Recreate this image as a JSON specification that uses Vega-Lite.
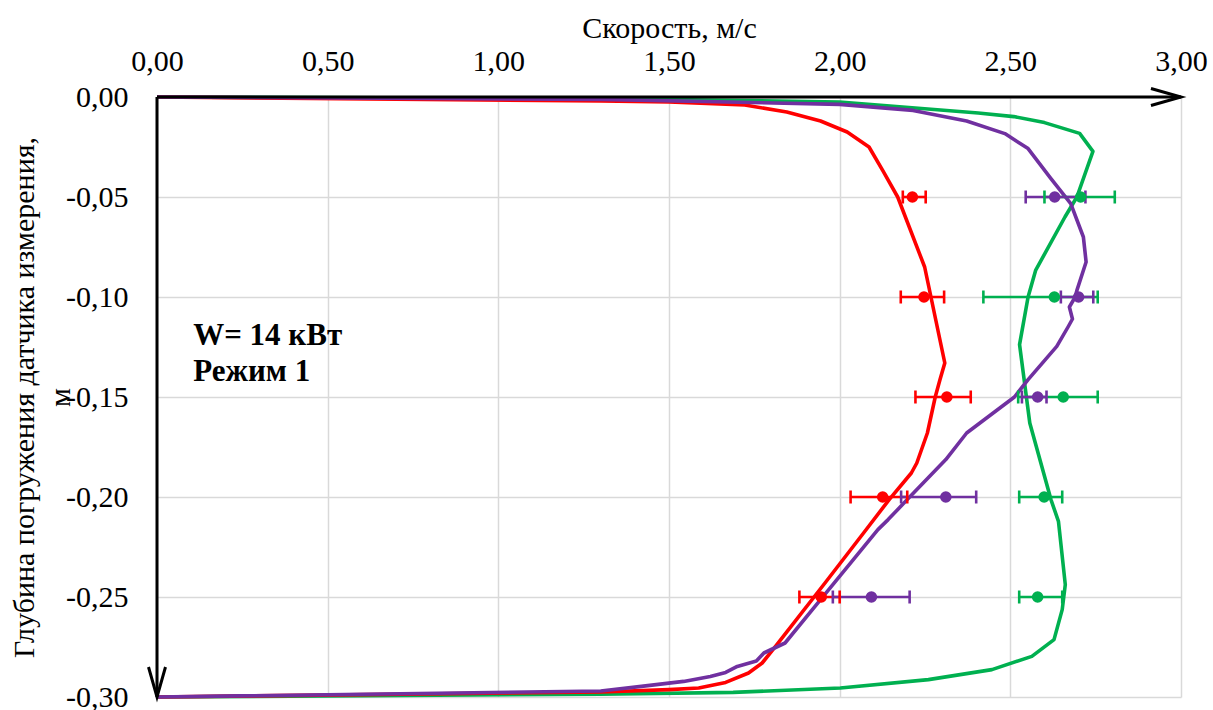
{
  "$schema": "https://vega.github.io/schema/vega-lite/v6.json",
  "width": 1024,
  "height": 600,
  "autosize": {"type": "none"},
  "padding": {"left": 157, "top": 97, "right": 32, "bottom": 13},
  "background": "white",
  "config": {
    "view": {"stroke": null},
    "font": "Liberation Serif",
    "locale": {
      "number": {"decimal": ",", "thousands": "\u00a0", "grouping": [3], "currency": ["", ""], "minus": "-"}
    },
    "axis": {
      "domain": false,
      "ticks": false,
      "tickSize": 0,
      "grid": true,
      "gridColor": "#d9d9d9",
      "gridWidth": 1.5,
      "labelFont": "Liberation Serif",
      "labelFontSize": 30,
      "labelColor": "#000000",
      "labelFlush": false,
      "labelOverlap": false,
      "labelBound": false,
      "titleFont": "Liberation Serif",
      "titleFontSize": 30,
      "titleFontWeight": "normal",
      "titleColor": "#000000"
    }
  },
  "datasets": {
    "profiles": [
      {"series": "s3", "v": 0, "d": 0},
      {"series": "s3", "v": 1.30, "d": -0.0008},
      {"series": "s3", "v": 2.0, "d": -0.0025},
      {"series": "s3", "v": 2.406, "d": -0.008},
      {"series": "s3", "v": 2.51, "d": -0.0098},
      {"series": "s3", "v": 2.60, "d": -0.0128},
      {"series": "s3", "v": 2.703, "d": -0.0182},
      {"series": "s3", "v": 2.742, "d": -0.0272},
      {"series": "s3", "v": 2.695, "d": -0.05},
      {"series": "s3", "v": 2.66, "d": -0.06},
      {"series": "s3", "v": 2.574, "d": -0.0867},
      {"series": "s3", "v": 2.552, "d": -0.10},
      {"series": "s3", "v": 2.527, "d": -0.1238},
      {"series": "s3", "v": 2.557, "d": -0.163},
      {"series": "s3", "v": 2.619, "d": -0.2013},
      {"series": "s3", "v": 2.641, "d": -0.2122},
      {"series": "s3", "v": 2.661, "d": -0.2438},
      {"series": "s3", "v": 2.652, "d": -0.2563},
      {"series": "s3", "v": 2.628, "d": -0.2713},
      {"series": "s3", "v": 2.563, "d": -0.2797},
      {"series": "s3", "v": 2.446, "d": -0.2863},
      {"series": "s3", "v": 2.26, "d": -0.2913},
      {"series": "s3", "v": 2.002, "d": -0.2955},
      {"series": "s3", "v": 1.688, "d": -0.2977},
      {"series": "s3", "v": 1.30, "d": -0.2986},
      {"series": "s3", "v": 0, "d": -0.3},

      {"series": "s1", "v": 0, "d": 0},
      {"series": "s1", "v": 1.30, "d": -0.002},
      {"series": "s1", "v": 1.50, "d": -0.0025},
      {"series": "s1", "v": 1.722, "d": -0.004},
      {"series": "s1", "v": 1.845, "d": -0.0075},
      {"series": "s1", "v": 1.944, "d": -0.012},
      {"series": "s1", "v": 2.022, "d": -0.0175},
      {"series": "s1", "v": 2.086, "d": -0.025},
      {"series": "s1", "v": 2.126, "d": -0.0367},
      {"series": "s1", "v": 2.17, "d": -0.05},
      {"series": "s1", "v": 2.249, "d": -0.085},
      {"series": "s1", "v": 2.308, "d": -0.133},
      {"series": "s1", "v": 2.294, "d": -0.1413},
      {"series": "s1", "v": 2.28, "d": -0.15},
      {"series": "s1", "v": 2.257, "d": -0.168},
      {"series": "s1", "v": 2.226, "d": -0.183},
      {"series": "s1", "v": 2.21, "d": -0.188},
      {"series": "s1", "v": 2.145, "d": -0.2013},
      {"series": "s1", "v": 2.07, "d": -0.218},
      {"series": "s1", "v": 1.957, "d": -0.243},
      {"series": "s1", "v": 1.812, "d": -0.2747},
      {"series": "s1", "v": 1.773, "d": -0.283},
      {"series": "s1", "v": 1.733, "d": -0.288},
      {"series": "s1", "v": 1.666, "d": -0.2927},
      {"series": "s1", "v": 1.587, "d": -0.2955},
      {"series": "s1", "v": 1.50, "d": -0.2963},
      {"series": "s1", "v": 1.30, "d": -0.2975},
      {"series": "s1", "v": 0, "d": -0.3},

      {"series": "s2", "v": 0, "d": 0},
      {"series": "s2", "v": 1.30, "d": -0.0012},
      {"series": "s2", "v": 2.0, "d": -0.0037},
      {"series": "s2", "v": 2.215, "d": -0.0067},
      {"series": "s2", "v": 2.372, "d": -0.012},
      {"series": "s2", "v": 2.484, "d": -0.0183},
      {"series": "s2", "v": 2.552, "d": -0.0258},
      {"series": "s2", "v": 2.619, "d": -0.0408},
      {"series": "s2", "v": 2.677, "d": -0.0533},
      {"series": "s2", "v": 2.714, "d": -0.07},
      {"series": "s2", "v": 2.722, "d": -0.0825},
      {"series": "s2", "v": 2.695, "d": -0.0967},
      {"series": "s2", "v": 2.69, "d": -0.10},
      {"series": "s2", "v": 2.673, "d": -0.105},
      {"series": "s2", "v": 2.682, "d": -0.111},
      {"series": "s2", "v": 2.669, "d": -0.115},
      {"series": "s2", "v": 2.636, "d": -0.1247},
      {"series": "s2", "v": 2.552, "d": -0.1413},
      {"series": "s2", "v": 2.512, "d": -0.15},
      {"series": "s2", "v": 2.372, "d": -0.168},
      {"series": "s2", "v": 2.311, "d": -0.1813},
      {"series": "s2", "v": 2.198, "d": -0.2013},
      {"series": "s2", "v": 2.142, "d": -0.2113},
      {"series": "s2", "v": 2.112, "d": -0.2163},
      {"series": "s2", "v": 1.944, "d": -0.2513},
      {"series": "s2", "v": 1.84, "d": -0.273},
      {"series": "s2", "v": 1.778, "d": -0.278},
      {"series": "s2", "v": 1.756, "d": -0.282},
      {"series": "s2", "v": 1.70, "d": -0.2847},
      {"series": "s2", "v": 1.666, "d": -0.2877},
      {"series": "s2", "v": 1.621, "d": -0.2897},
      {"series": "s2", "v": 1.543, "d": -0.2922},
      {"series": "s2", "v": 1.419, "d": -0.2947},
      {"series": "s2", "v": 1.30, "d": -0.297},
      {"series": "s2", "v": 0, "d": -0.3}
    ],
    "measured": [
      {"series": "s3", "d": -0.05, "v": 2.706, "lo": 2.60, "hi": 2.806},
      {"series": "s3", "d": -0.10, "v": 2.629, "lo": 2.421, "hi": 2.756},
      {"series": "s3", "d": -0.15, "v": 2.655, "lo": 2.523, "hi": 2.756},
      {"series": "s3", "d": -0.20, "v": 2.599, "lo": 2.526, "hi": 2.652},
      {"series": "s3", "d": -0.25, "v": 2.58, "lo": 2.526, "hi": 2.652},
      {"series": "s1", "d": -0.05, "v": 2.213, "lo": 2.185, "hi": 2.252},
      {"series": "s1", "d": -0.10, "v": 2.247, "lo": 2.179, "hi": 2.306},
      {"series": "s1", "d": -0.15, "v": 2.314, "lo": 2.222, "hi": 2.384},
      {"series": "s1", "d": -0.20, "v": 2.126, "lo": 2.032, "hi": 2.198},
      {"series": "s1", "d": -0.25, "v": 1.946, "lo": 1.882, "hi": 2.0},
      {"series": "s2", "d": -0.05, "v": 2.63, "lo": 2.545, "hi": 2.72},
      {"series": "s2", "d": -0.10, "v": 2.70, "lo": 2.648, "hi": 2.743},
      {"series": "s2", "d": -0.15, "v": 2.58, "lo": 2.534, "hi": 2.606},
      {"series": "s2", "d": -0.20, "v": 2.311, "lo": 2.18, "hi": 2.40},
      {"series": "s2", "d": -0.25, "v": 2.093, "lo": 1.98, "hi": 2.205}
    ],
    "frame": [
      {"part": "x-axis", "k": 0, "v": 0, "d": 0},
      {"part": "x-axis", "k": 1, "v": 3.0, "d": 0},
      {"part": "x-head", "k": 0, "v": 2.912, "d": 0.00425},
      {"part": "x-head", "k": 1, "v": 3.0, "d": 0},
      {"part": "x-head", "k": 2, "v": 2.912, "d": -0.00425},
      {"part": "y-axis", "k": 0, "v": 0, "d": 0},
      {"part": "y-axis", "k": 1, "v": 0, "d": -0.3},
      {"part": "y-head", "k": 0, "v": -0.0249, "d": -0.285},
      {"part": "y-head", "k": 1, "v": 0, "d": -0.3},
      {"part": "y-head", "k": 2, "v": 0.0249, "d": -0.285}
    ],
    "note": [
      {"line1": "W= 14 кВт", "line2": "Режим 1"}
    ]
  },
  "layer": [
    {
      "data": {"name": "profiles"},
      "mark": {"type": "line", "strokeWidth": 3.6, "strokeJoin": "round"},
      "encoding": {
        "x": {
          "field": "v",
          "type": "quantitative",
          "scale": {"domain": [0, 3], "nice": false, "zero": false},
          "axis": {
            "orient": "top",
            "values": [0, 0.5, 1, 1.5, 2, 2.5, 3],
            "format": ".2f",
            "labelFont": "Liberation Serif",
            "labelFontSize": 30,
            "labelPadding": 27,
            "labelBaseline": "alphabetic",
            "title": "Скорость, м/с",
            "titleFont": "Liberation Serif",
            "titleBaseline": "alphabetic",
            "titleY": -60
          }
        },
        "y": {
          "field": "d",
          "type": "quantitative",
          "scale": {"domain": [-0.3, 0], "nice": false, "zero": false},
          "axis": {
            "values": [0, -0.05, -0.1, -0.15, -0.2, -0.25, -0.3],
            "format": ".2f",
            "labelFont": "Liberation Serif",
            "labelFontSize": 30,
            "labelPadding": 29,
            "labelBaseline": "middle",
            "title": ["Глубина погружения датчика измерения,", "м"],
            "titleFont": "Liberation Serif",
            "titleAngle": -90,
            "titleAlign": "center",
            "titleBaseline": "alphabetic",
            "titleLineHeight": 36,
            "titleX": -124,
            "titleY": 300
          }
        },
        "color": {
          "field": "series",
          "type": "nominal",
          "scale": {"domain": ["s1", "s2", "s3"], "range": ["#FF0000", "#7030A0", "#00B050"]},
          "legend": null
        },
        "order": {"field": "d", "sort": "descending"}
      }
    },
    {
      "data": {"name": "measured"},
      "mark": {"type": "rule", "strokeWidth": 2.6},
      "encoding": {
        "x": {"field": "lo", "type": "quantitative"},
        "x2": {"field": "hi"},
        "y": {"field": "d", "type": "quantitative"},
        "color": {"field": "series", "type": "nominal", "legend": null}
      }
    },
    {
      "data": {"name": "measured"},
      "mark": {"type": "tick", "orient": "vertical", "size": 13, "thickness": 2.6, "opacity": 1},
      "encoding": {
        "x": {"field": "lo", "type": "quantitative"},
        "y": {"field": "d", "type": "quantitative"},
        "color": {"field": "series", "type": "nominal", "legend": null}
      }
    },
    {
      "data": {"name": "measured"},
      "mark": {"type": "tick", "orient": "vertical", "size": 13, "thickness": 2.6, "opacity": 1},
      "encoding": {
        "x": {"field": "hi", "type": "quantitative"},
        "y": {"field": "d", "type": "quantitative"},
        "color": {"field": "series", "type": "nominal", "legend": null}
      }
    },
    {
      "data": {"name": "measured"},
      "mark": {"type": "point", "filled": true, "size": 135, "opacity": 1},
      "encoding": {
        "x": {"field": "v", "type": "quantitative"},
        "y": {"field": "d", "type": "quantitative"},
        "color": {"field": "series", "type": "nominal", "legend": null}
      }
    },
    {
      "data": {"name": "frame"},
      "mark": {"type": "line", "color": "#000000", "strokeWidth": 3, "strokeJoin": "miter", "strokeCap": "butt"},
      "encoding": {
        "x": {"field": "v", "type": "quantitative"},
        "y": {"field": "d", "type": "quantitative"},
        "detail": {"field": "part", "type": "nominal"},
        "order": {"field": "k"}
      }
    },
    {
      "data": {"name": "note"},
      "mark": {
        "type": "text",
        "font": "Liberation Serif",
        "fontSize": 31,
        "fontWeight": "bold",
        "align": "left",
        "baseline": "alphabetic",
        "lineHeight": 36,
        "color": "#000000"
      },
      "encoding": {
        "text": {"value": ["W= 14 кВт", "Режим 1"]},
        "x": {"datum": 0.106},
        "y": {"datum": -0.124}
      }
    }
  ]
}
